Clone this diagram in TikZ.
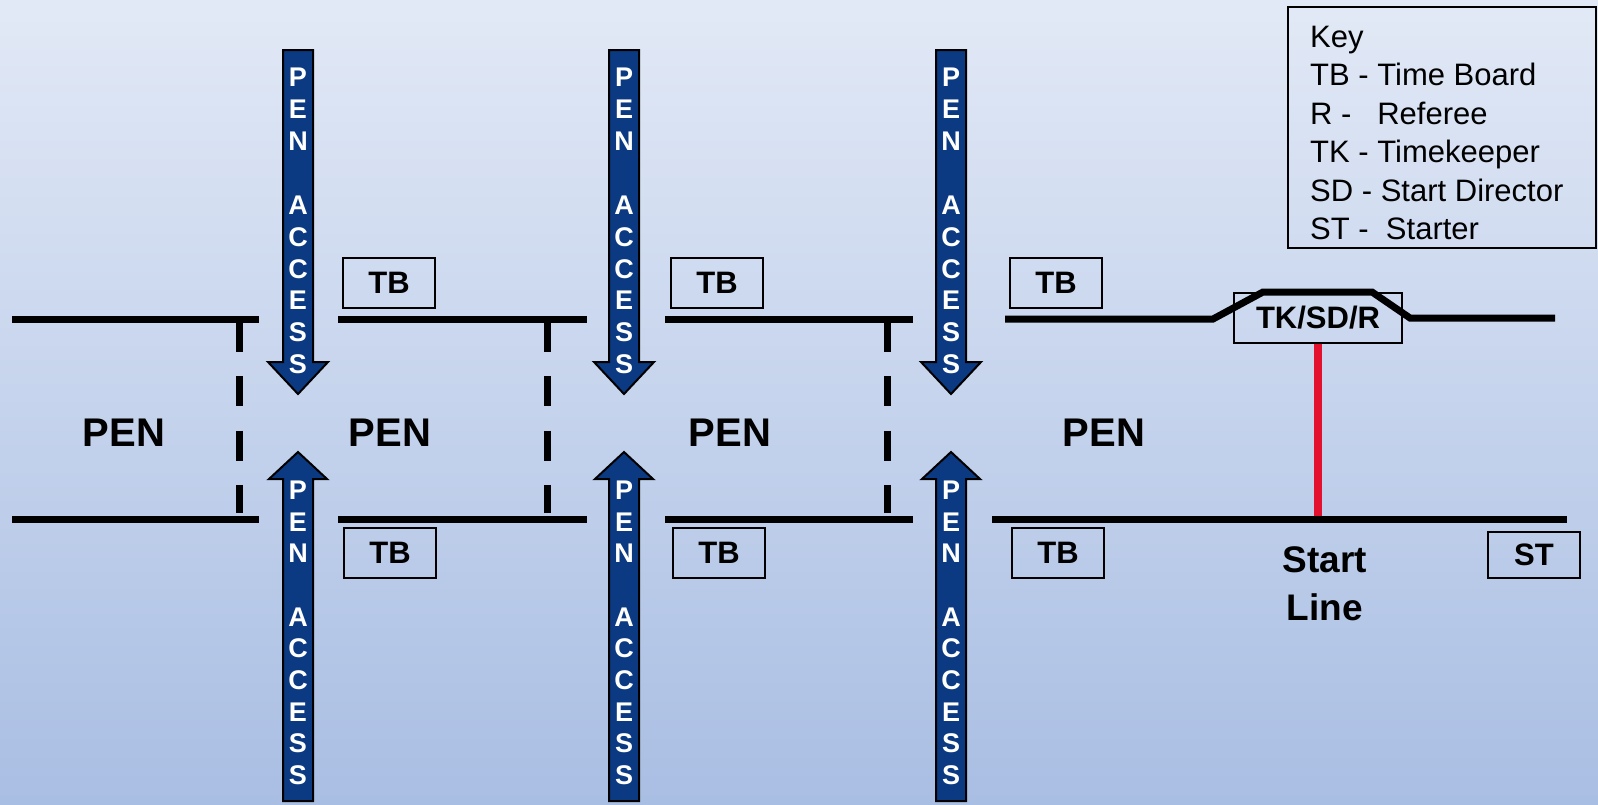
\documentclass[tikz,border=0pt]{standalone}
\usepackage{fontspec}
\setmainfont{Liberation Sans}
\definecolor{arrowblue}{HTML}{0B3A82}
\definecolor{redline}{HTML}{E3102E}
\definecolor{bgtop}{HTML}{E2E9F6}
\definecolor{bgbot}{HTML}{A9BEE3}
\begin{document}
\begin{tikzpicture}[x=1pt,y=-1pt,
  barrier/.style={line width=7pt,black},
  gate/.style={line width=7pt,black,dash pattern=on 30pt off 24.3pt},
  labelbox/.style={draw,line width=2pt,inner sep=0pt,minimum width=92pt,minimum height=50pt,
    font=\fontsize{31}{36}\selectfont\bfseries},
  pen/.style={inner sep=0pt,font=\fontsize{40}{48}\selectfont\bfseries},
  accessarrow/.style={fill=arrowblue,draw=black,line width=2pt,line join=miter},
  arrowletter/.style={inner sep=0pt,text=white,font=\fontsize{27}{30}\selectfont\bfseries},
  keyline/.style={anchor=base west,inner sep=0pt,font=\fontsize{31}{36}\selectfont},
  redconn/.style={line width=8pt,redline}]
\shade[top color=bgtop,bottom color=bgbot] (0,0) rectangle (1598,804);
\useasboundingbox (0,0) rectangle (1598,804);

% red connector first (under the start line)
\node[labelbox,minimum width=168pt] (tk) at (1318,318) {TK/SD/R};
\coordinate (startpt) at (1318,517);
\draw[redconn] (tk.south) -- (startpt);

% barriers
\foreach \a/\b in {12/259,338/587,665/913}{
  \draw[barrier] (\a,319) -- (\b,319);
  \draw[barrier] (\a,519) -- (\b,519);
}
\draw[barrier] (1005,319) -- (1213,319) -- (1263,292) -- (1372,292) -- (1410,318) -- (1555,318);
\draw[barrier] (992,519) -- (1567,519);

% gates
\foreach \x in {239,547,887}
  \draw[gate] (\x,322) -- (\x,513);

% access arrows
\foreach \c in {298,624,951}{
  \draw[accessarrow] (\c-15,50) -- (\c+15,50) -- (\c+15,362) -- (\c+30,362) -- (\c,394)
     -- (\c-30,362) -- (\c-15,362) -- cycle;
  \draw[accessarrow] (\c-15,801) -- (\c+15,801) -- (\c+15,479) -- (\c+29,479) -- (\c,452)
     -- (\c-29,479) -- (\c-15,479) -- cycle;
  \foreach \l/\y in {P/77,E/109,N/141,A/205,C/237,C/269,E/300,S/332,S/364}
    \node[arrowletter] (d\c-\y) at (\c,\y) {\l};
  \foreach \l/\y in {P/490,E/522,N/553,A/617,C/648,C/680,E/712,S/743,S/775}
    \node[arrowletter] (u\c-\y) at (\c,\y) {\l};
}

% pens
\node[pen] (pen1) at (124,433) {PEN};
\node[pen] (pen2) at (390,433) {PEN};
\node[pen] (pen3) at (730,433) {PEN};
\node[pen] (pen4) at (1104,433) {PEN};

% time boards
\node[labelbox] (tb1) at (389,283) {TB};
\node[labelbox] (tb2) at (717,283) {TB};
\node[labelbox] (tb3) at (1056,283) {TB};
\node[labelbox] (tb4) at (390,553) {TB};
\node[labelbox] (tb5) at (719,553) {TB};
\node[labelbox] (tb6) at (1058,553) {TB};
\node[labelbox,minimum height=46pt] (st) at (1534,555) {ST};

% start line label
\node[inner sep=0pt,align=center,font=\fontsize{37}{48}\selectfont\bfseries] (startlbl) at (1325,584) {Start\\Line};

% key
\draw[line width=2pt] (1288,7) rectangle (1596,248);
\node[keyline] (k0) at (1310,47) {Key};
\node[keyline] (k1) at (1310,85.5) {TB - Time Board};
\node[keyline] (k2) at (1310,124) {R -\ \ \ Referee};
\node[keyline] (k3) at (1310,162.5) {TK - Timekeeper};
\node[keyline] (k4) at (1310,201) {SD - Start Director};
\node[keyline] (k5) at (1310,239.5) {ST -\ \ Starter};
\end{tikzpicture}
\end{document}
